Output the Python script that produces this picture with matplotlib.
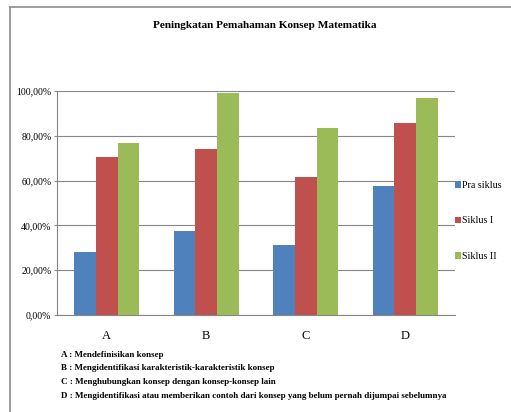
import numpy as np
import matplotlib.pyplot as plt
from matplotlib.lines import Line2D
from matplotlib.ticker import FuncFormatter

categories = ["A", "B", "C", "D"]
series_names = ["Pra siklus", "Siklus I", "Siklus II"]
pra_siklus = [0.283, 0.376, 0.312, 0.577]
siklus_1 = [0.705, 0.743, 0.615, 0.857]
siklus_2 = [0.769, 0.990, 0.836, 0.970]
colors = ["#4F81BD", "#C0504D", "#9BBB59"]
notes = [
    "A : Mendefinisikan konsep",
    "B : Mengidentifikasi karakteristik-karakteristik konsep",
    "C : Menghubungkan konsep dengan konsep-konsep lain",
    "D : Mengidentifikasi atau memberikan contoh dari konsep yang belum pernah dijumpai sebelumnya",
]

plt.rcParams["font.family"] = ["Liberation Serif", "DejaVu Serif"]

W, H = 511, 412
fig = plt.figure(figsize=(W / 100, H / 100), dpi=100)
ax = fig.add_axes([57 / W, 1 - 315 / H, (455 - 57) / W, (315 - 91) / H])

x = np.arange(len(categories))
width = 0.218
for i, (vals, name) in enumerate(zip([pra_siklus, siklus_1, siklus_2], series_names)):
    ax.bar(x + (i - 1) * width, vals, width, color=colors[i], label=name, zorder=3)

ax.set_xlim(-0.5, len(categories) - 0.5)
ax.set_ylim(0, 1.0)
ax.set_yticks(np.arange(0, 1.01, 0.2))
ax.yaxis.set_major_formatter(FuncFormatter(lambda v, p: f"{v * 100:.2f}%".replace(".", ",")))
ax.set_xticks(x)
ax.set_xticklabels(categories, fontsize=9)
ax.tick_params(axis="x", length=0, pad=11)
ax.tick_params(axis="y", length=2.5, width=0.8, color="#868686", labelsize=7, pad=1.5)
ax.grid(axis="y", color="#868686", linewidth=0.8, zorder=0)
for side in ["top", "right"]:
    ax.spines[side].set_visible(False)
for side in ["left", "bottom"]:
    ax.spines[side].set_color("#868686")
    ax.spines[side].set_linewidth(0.8)

leg = ax.legend(loc="center left", bbox_to_anchor=(0.99, 0.42), frameon=False,
                fontsize=7.2, handlelength=0.6, handleheight=0.6,
                handletextpad=0.12, labelspacing=2.65, borderaxespad=0.0)

fig.text(265 / W, 1 - 25 / H, "Peningkatan Pemahaman Konsep Matematika",
         ha="center", va="center", fontsize=8.1, fontweight="bold")

for k, line in enumerate(notes):
    fig.text(61 / W, 1 - (355 + k * 13.5) / H, line, ha="left", va="center",
             fontsize=6.5, fontweight="bold")

# outer frame (top and left edges)
fig.add_artist(Line2D([10 / W, 1], [1 - 7 / H, 1 - 7 / H], transform=fig.transFigure,
                      color="#8c8c8c", linewidth=1.2))
fig.add_artist(Line2D([10 / W, 10 / W], [0, 1 - 7 / H], transform=fig.transFigure,
                      color="#8c8c8c", linewidth=1.2))

fig.savefig("out.png", dpi=100)
